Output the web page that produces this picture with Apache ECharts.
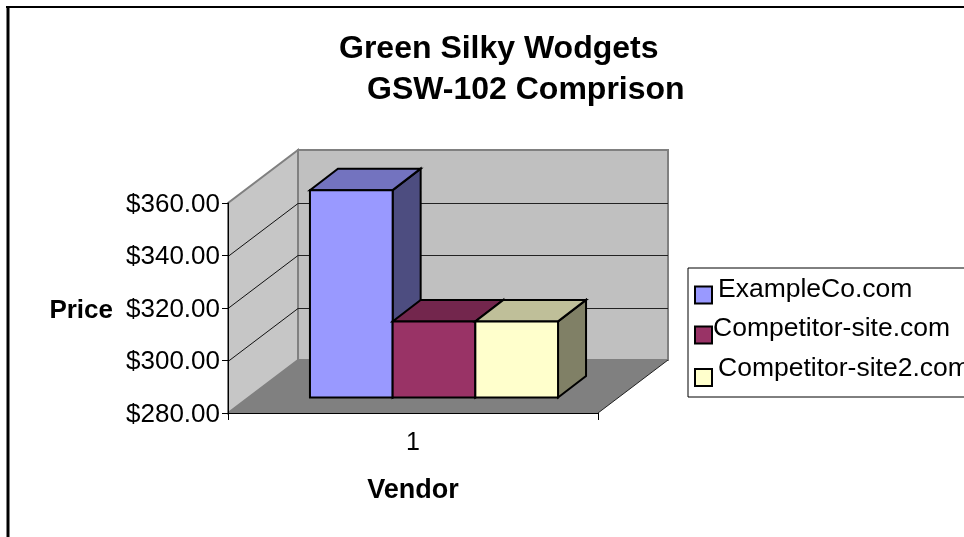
<!DOCTYPE html>
<html>
<head>
<meta charset="utf-8">
<style>
  html, body { margin: 0; padding: 0; background: #fff; overflow: hidden; }
  #chart { width: 964px; height: 537px; }
</style>
<script src="https://cdn.jsdelivr.net/npm/echarts@6/dist/echarts.min.js"></script>
</head>
<body>
<div id="chart"></div>
<script>
const titleLines = ["Green Silky Wodgets", "GSW-102 Comprison"];
const categories = ["1"];
const seriesNames = ["ExampleCo.com", "Competitor-site.com", "Competitor-site2.com"];
const seriesValues = [359, 309, 309];
const frontColors = ["#9999FF", "#993366", "#FFFFCC"];
const topColors = ["#7373BF", "#73264D", "#BFBF99"];
const sideColors = ["#4D4D80", "#4D1A33", "#808066"];
const yTicks = [280, 300, 320, 340, 360];

const FONT = "'Liberation Sans', Arial, sans-serif";
// fake 3D: how far the back wall and the bars are pushed away from the axis plane
const WALL_DX = 70, WALL_DY = -53;
const BAR_DX = 28, BAR_DY = -21.5;
const FRONT_GAP_DX = 21, FRONT_GAP_DY = -15.5;
const BAR_SHARE = 0.2235;

function poly(points, fill, stroke, width) {
  return {
    type: "polygon",
    shape: { points: points },
    style: { fill: fill, stroke: stroke, lineWidth: width, lineJoin: "miter" }
  };
}

function line(a, b, color, width) {
  return {
    type: "line",
    shape: { x1: a[0], y1: a[1], x2: b[0], y2: b[1] },
    style: { stroke: color, lineWidth: width }
  };
}

function renderWalls(params, api) {
  const cx = api.coord([0, yTicks[0]])[0];
  const w = api.size([1, 0])[0];
  const y0 = api.coord([0, yTicks[0]])[1];
  const y1 = api.coord([0, yTicks[yTicks.length - 1]])[1];
  const l = cx - w / 2, r = cx + w / 2;
  const children = [
    poly([[l, y0], [l + WALL_DX, y0 + WALL_DY], [l + WALL_DX, y1 + WALL_DY], [l, y1]], "#C6C6C6", "#808080", 2),
    poly([[l + WALL_DX, y0 + WALL_DY], [r + WALL_DX, y0 + WALL_DY], [r + WALL_DX, y1 + WALL_DY], [l + WALL_DX, y1 + WALL_DY]], "#C0C0C0", "#808080", 2),
    poly([[l, y0], [r, y0], [r + WALL_DX, y0 + WALL_DY], [l + WALL_DX, y0 + WALL_DY]], "#808080", "none", 0),
    line([r, y0], [r + WALL_DX, y0 + WALL_DY], "#222", 1)
  ];
  yTicks.slice(1, -1).forEach(function (t) {
    const y = Math.round(api.coord([0, t])[1]) + 0.5;
    children.push(line([l, y], [l + WALL_DX, y + WALL_DY], "#111", 1));
    children.push(line([l + WALL_DX, y + WALL_DY], [r + WALL_DX, y + WALL_DY], "#222", 1));
  });
  return { type: "group", children: children };
}

function renderBar(params, api) {
  const i = params.seriesIndex - 1;
  const band = api.size([1, 0])[0];
  const barW = band * BAR_SHARE;
  const center = api.coord([0, yTicks[0]])[0];
  const x = center - barW * seriesValues.length / 2 + i * barW + FRONT_GAP_DX;
  const yTop = api.coord([0, api.value(1)])[1] + FRONT_GAP_DY;
  const yBase = api.coord([0, yTicks[0]])[1] + FRONT_GAP_DY;
  const xr = x + barW;
  return {
    type: "group",
    children: [
      poly([[xr, yBase], [xr + BAR_DX, yBase + BAR_DY], [xr + BAR_DX, yTop + BAR_DY], [xr, yTop]], sideColors[i], "#000", 2),
      poly([[x, yTop], [xr, yTop], [xr + BAR_DX, yTop + BAR_DY], [x + BAR_DX, yTop + BAR_DY]], topColors[i], "#000", 2),
      poly([[x, yBase], [xr, yBase], [xr, yTop], [x, yTop]], frontColors[i], "#000", 2)
    ]
  };
}

const barSeries = seriesNames.map(function (name, i) {
  return {
    name: name,
    type: "custom",
    z: 3 + i,
    clip: false,
    coordinateSystem: "cartesian2d",
    itemStyle: { color: frontColors[i], borderColor: "#000", borderWidth: 2 },
    encode: { x: 0, y: 1 },
    data: [[0, seriesValues[i]]],
    renderItem: renderBar
  };
});

// the legend rows in the original are a bit crooked, each text sits higher than its swatch
const legendText = { fontFamily: FONT, fontSize: 26.5, color: "#000" };

const chart = echarts.init(document.getElementById("chart"));
chart.setOption({
  animation: false,
  backgroundColor: "#fff",
  title: [
    { text: titleLines[0], left: 339, top: 33, textStyle: { fontFamily: FONT, fontSize: 32, fontWeight: "bold", color: "#000" }, padding: 0 },
    { text: titleLines[1], left: 367, top: 74, textStyle: { fontFamily: FONT, fontSize: 32, fontWeight: "bold", color: "#000" }, padding: 0 }
  ],
  grid: { left: 228, top: 203, width: 370, height: 210 },
  xAxis: {
    type: "category",
    data: categories,
    z: 6,
    name: "Vendor",
    nameLocation: "middle",
    nameGap: 64,
    nameTextStyle: { fontFamily: FONT, fontSize: 27, fontWeight: "bold", color: "#000" },
    axisLine: { lineStyle: { color: "#000", width: 1 } },
    axisTick: { show: true, length: 7, inside: false, lineStyle: { color: "#000" } },
    axisLabel: { fontFamily: FONT, fontSize: 25, color: "#000", margin: 18 },
    splitLine: { show: false }
  },
  yAxis: {
    type: "value",
    min: yTicks[0],
    max: yTicks[yTicks.length - 1],
    interval: yTicks[1] - yTicks[0],
    z: 6,
    name: "{p|Price}",
    nameLocation: "middle",
    nameRotate: 0,
    nameGap: 115,
    nameTextStyle: {
      fontFamily: FONT, fontSize: 26, fontWeight: "bold", color: "#000",
      rich: { p: { fontFamily: FONT, fontSize: 26, fontWeight: "bold", color: "#000", padding: [6, 0, 0, 0] } }
    },
    axisLine: { show: true, lineStyle: { color: "#000", width: 1 } },
    axisTick: { show: true, length: 6, lineStyle: { color: "#000" } },
    axisLabel: {
      fontFamily: FONT, fontSize: 26, color: "#000", margin: 8,
      rich: { v: { fontFamily: FONT, fontSize: 26, color: "#000", padding: [3, 0, 0, 0] } },
      formatter: function (v) { return "{v|$" + v.toFixed(2) + "}"; }
    },
    splitLine: { show: false }
  },
  legend: {
    orient: "vertical",
    left: 688,
    top: 268,
    padding: [8, 0, 10, 6],
    itemGap: 11,
    itemWidth: 17,
    itemHeight: 17,
    icon: "rect",
    borderColor: "#000",
    borderWidth: 1,
    selectedMode: false,
    formatter: function (name) {
      return "{r" + seriesNames.indexOf(name) + "|" + name + "}";
    },
    textStyle: {
      fontFamily: FONT, fontSize: 26.5, color: "#000",
      rich: {
        r0: Object.assign({ padding: [0, 0, 11, 1] }, legendText),
        r1: Object.assign({ padding: [0, 0, 12, -4] }, legendText),
        r2: Object.assign({ padding: [0, 0, 17, 1] }, legendText)
      }
    },
    data: seriesNames
  },
  graphic: [
    { type: "line", shape: { x1: 6, y1: 7, x2: 964, y2: 7 }, style: { stroke: "#000", lineWidth: 2 } },
    { type: "line", shape: { x1: 8, y1: 6, x2: 8, y2: 537 }, style: { stroke: "#000", lineWidth: 3 } }
  ],
  series: [{
    type: "custom",
    z: 2,
    clip: false,
    coordinateSystem: "cartesian2d",
    silent: true,
    encode: { x: 0, y: 1 },
    data: [[0, yTicks[0]]],
    renderItem: renderWalls
  }].concat(barSeries)
});
</script>
</body>
</html>
